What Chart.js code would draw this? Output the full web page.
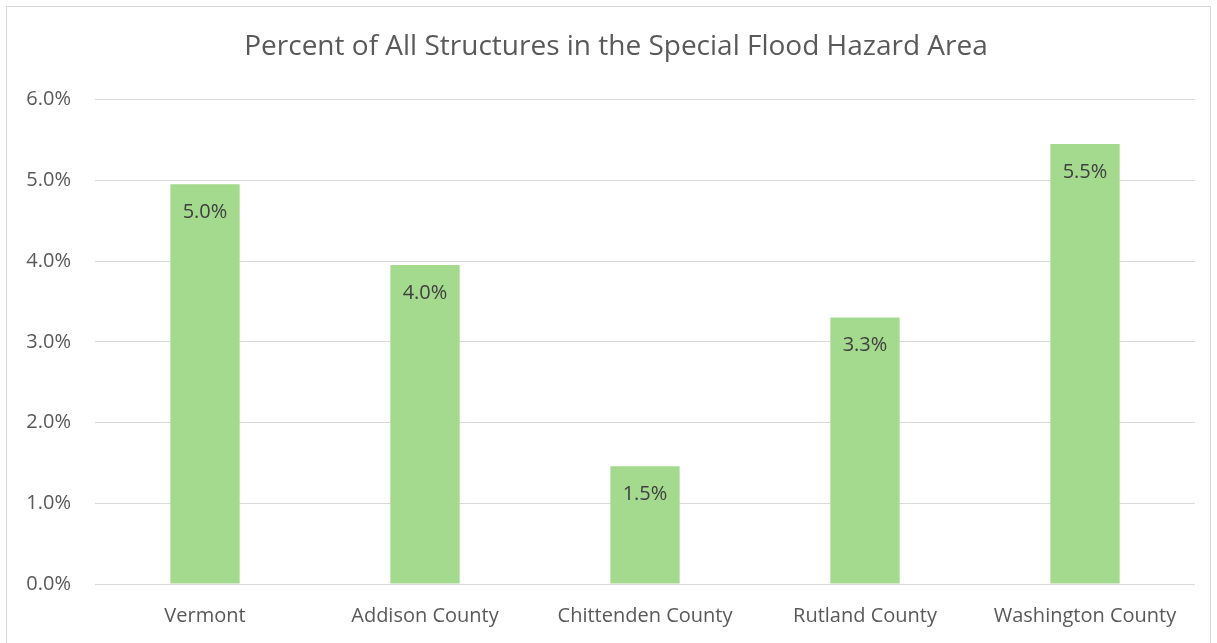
<!DOCTYPE html>
<html>
<head>
<meta charset="utf-8">
<script src="https://cdn.jsdelivr.net/npm/chart.js@4"></script>
<style>
  html, body { margin: 0; padding: 0; background: #fff; }
  #wrap { position: absolute; left: 0; top: 0; width: 1217px; height: 643px; }
  #frame { position: absolute; left: 6px; top: 6px; width: 1205px; height: 650px; border: 1px solid #d9d9d9; box-sizing: border-box; pointer-events: none; }
</style>
</head>
<body>
<div id="wrap">
  <canvas id="chart" width="1217" height="643"></canvas>
  <div id="frame"></div>
</div>
<script>
const categories = ['Vermont', 'Addison County', 'Chittenden County', 'Rutland County', 'Washington County'];
const percents = [4.95, 3.95, 1.46, 3.30, 5.45];
const yTicks = [0, 1, 2, 3, 4, 5, 6];

const FONT = '"Open Sans", "Noto Sans", sans-serif';

// Draws the value inside the top of each bar, like Excel's "inside end" labels.
const barLabels = {
    id: 'barLabels',
    afterDatasetsDraw(chart) {
        const ctx = chart.ctx;
        const meta = chart.getDatasetMeta(0);
        ctx.save();
        ctx.font = '20px ' + FONT;
        ctx.fillStyle = '#404040';
        ctx.textAlign = 'center';
        ctx.textBaseline = 'middle';
        meta.data.forEach((bar, i) => {
            ctx.fillText(percents[i].toFixed(1) + '%', bar.x, bar.y + 28);
        });
        ctx.restore();
    }
};

// Excel centres the title a bit right of the canvas middle; nudge the title box.
const titleShift = {
    id: 'titleShift',
    afterLayout(chart) {
        if (chart.titleBlock) chart.titleBlock.left = 37;
    }
};

new Chart(document.getElementById('chart'), {
    type: 'bar',
    data: {
        labels: categories,
        datasets: [{
            data: percents,
            backgroundColor: '#a3da8e',
            borderWidth: 0,
            categoryPercentage: 1,
            barPercentage: 0.315,
        }],
    },
    options: {
        responsive: false,
        animation: false,
        events: [],
        layout: { padding: { left: 0, right: 22, top: 0, bottom: 0 } },
        plugins: {
            legend: { display: false },
            tooltip: { enabled: false },
            title: {
                display: true,
                text: 'Percent of All Structures in the Special Flood Hazard Area',
                color: '#595959',
                font: { family: FONT, size: 28, weight: 'normal' },
                padding: { top: 30, bottom: 36 },
            },
        },
        scales: {
            x: {
                grid: { display: false },
                border: { display: false },
                ticks: { color: '#595959', font: { family: FONT, size: 20 }, padding: 12 },
                afterFit(scale) { scale.height = 59; },
            },
            y: {
                min: 0,
                max: 6,
                afterBuildTicks(scale) { scale.ticks = yTicks.map(v => ({ value: v })); },
                grid: { color: '#d9d9d9', lineWidth: 1, drawTicks: false },
                border: { display: false },
                ticks: {
                    color: '#595959',
                    font: { family: FONT, size: 20 },
                    padding: 24,
                    callback: v => v.toFixed(1) + '%',
                },
                afterFit(scale) { scale.width = 95; },
            },
        },
    },
    plugins: [barLabels, titleShift],
});
</script>
</body>
</html>
